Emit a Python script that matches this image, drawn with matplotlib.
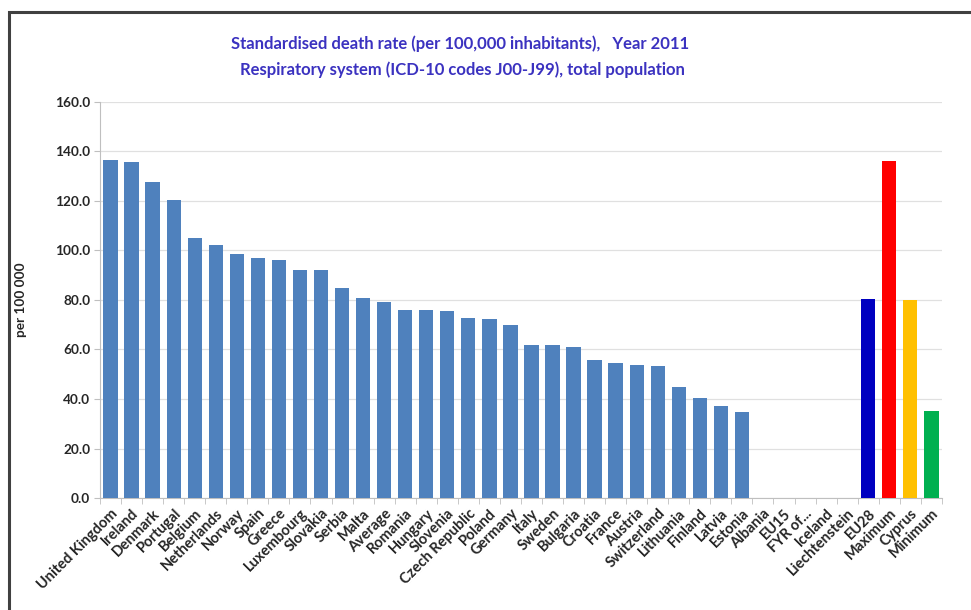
import numpy as np
import matplotlib.pyplot as plt
from matplotlib.patches import Rectangle

countries = ["United Kingdom", "Ireland", "Denmark", "Portugal", "Belgium", "Netherlands",
             "Norway", "Spain", "Greece", "Luxembourg", "Slovakia", "Serbia", "Malta",
             "Average", "Romania", "Hungary", "Slovenia", "Czech Republic", "Poland",
             "Germany", "Italy", "Sweden", "Bulgaria", "Croatia", "France", "Austria",
             "Switzerland", "Lithuania", "Finland", "Latvia", "Estonia", "Albania", "EU15",
             "FYR of...", "Iceland", "Liechtenstein", "EU28", "Maximum", "Cyprus", "Minimum"]
rates = [136.4, 135.6, 127.7, 120.3, 105.2, 102.1, 98.6, 96.8, 96.3, 92.1, 92.1, 85.0, 80.8,
         79.3, 76.1, 76.1, 75.6, 72.7, 72.2, 70.0, 62.0, 62.0, 61.1, 55.8, 54.5, 53.9,
         53.5, 44.7, 40.5, 37.3, 34.7, 0, 0, 0, 0, 0, 80.5, 136.3, 80.1, 35.0]

special_colors = {"EU28": "#0000C0", "Maximum": "#FF0000", "Cyprus": "#FFC000", "Minimum": "#00B050"}
colors = [special_colors.get(c, "#4F81BD") for c in countries]

plt.rcParams['font.family'] = ['Lato', 'DejaVu Sans']

fig = plt.figure(figsize=(9.71, 6.10), dpi=100)
ax = fig.add_axes([0.103, 0.1836, 0.867, 0.6492])

x = np.arange(len(countries))
ax.bar(x, rates, width=0.68, color=colors, zorder=3)

ax.set_xlim(-0.5, len(countries) - 0.5)
ax.set_ylim(0, 160)
ax.set_yticks(np.arange(0, 161, 20))
ax.set_yticklabels(["%.1f" % v for v in np.arange(0, 161, 20)], fontsize=9.8,
                   fontweight='bold', color='#262626')
ax.yaxis.grid(True, color='#E0E0E0', linewidth=0.9, zorder=0)

ax.set_xticks(x)
ax.set_xticklabels(countries, rotation=45, ha='right', rotation_mode='anchor',
                   fontsize=10.5, fontweight='bold', color='#262626')
ax.tick_params(axis='x', length=0, pad=6)
ax.set_xticks(np.arange(-0.5, len(countries), 1), minor=True)
ax.tick_params(axis='x', which='minor', length=4, color='#BFBFBF')
ax.tick_params(axis='y', length=4, color='#BFBFBF', pad=3)

for s in ['top', 'right']:
    ax.spines[s].set_visible(False)
ax.spines['left'].set_color('#BFBFBF')
ax.spines['bottom'].set_color('#BFBFBF')

ax.set_ylabel("per 100 000", fontsize=9.8, fontweight='bold', color='#262626', labelpad=20)

title_color = '#3B32C0'
fig.text(0.474, 0.928, "Standardised death rate (per 100,000 inhabitants),   Year 2011",
         ha='center', va='center', fontsize=12, fontweight='bold', color=title_color)
fig.text(0.476, 0.885, "Respiratory system (ICD-10 codes J00-J99), total population",
         ha='center', va='center', fontsize=12, fontweight='bold', color=title_color)

# frame around the chart area (runs off the right and bottom edges)
fig.patches.append(Rectangle((9 / 971, -0.05), 1.0, (610 - 12) / 610 + 0.05,
                             transform=fig.transFigure, fill=False,
                             edgecolor='#404040', linewidth=2.2))

fig.savefig("out.png", dpi=100)
